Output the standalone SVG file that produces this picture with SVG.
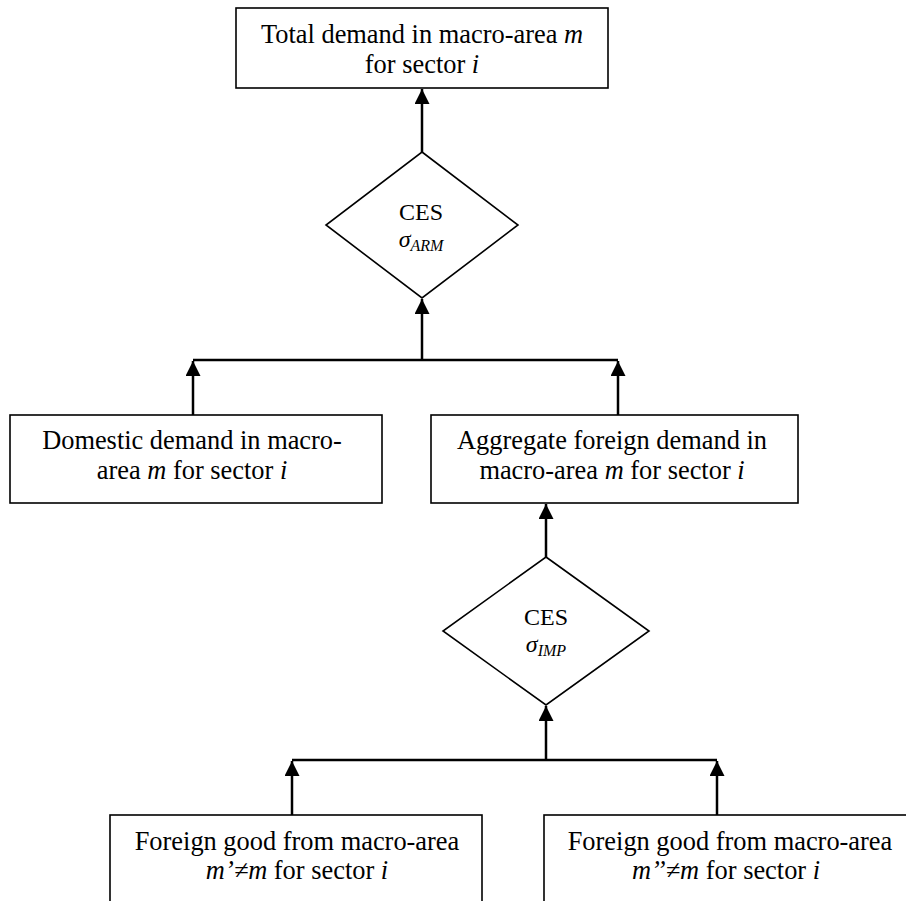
<svg xmlns="http://www.w3.org/2000/svg" width="906" height="901" viewBox="0 0 906 901">
<defs>
<style>
.box{fill:#fff;stroke:#000;stroke-width:1.6}
.dia{fill:#fff;stroke:#000;stroke-width:1.6}
.t{font-family:"Liberation Serif","Times New Roman",serif;font-size:26.4px;fill:#000;text-anchor:middle}
.d{font-size:24px}
.it{font-style:italic}
.sub{font-size:16px;font-style:italic}
.c{stroke:#000;stroke-width:2.5;fill:none}
.a{stroke:#000;stroke-width:2.5;fill:none;marker-end:url(#ah)}
</style>
<marker id="ah" viewBox="0 0 10 10" refX="10" refY="5" markerWidth="6.4" markerHeight="6" markerUnits="strokeWidth" orient="auto">
<path d="M0,0 L10,5 L0,10 z" fill="#000"/>
</marker>
</defs>
<rect width="906" height="901" fill="#fff"/>
<g id="connectors">
<line class="a" x1="422" y1="152" x2="422" y2="89"/>
<line class="a" x1="422" y1="360" x2="422" y2="299"/>
<line class="c" x1="193" y1="360" x2="618" y2="360"/>
<line class="a" x1="193" y1="415" x2="193" y2="361"/>
<line class="a" x1="618" y1="415" x2="618" y2="361"/>
<line class="a" x1="546" y1="557" x2="546" y2="504"/>
<line class="a" x1="546" y1="760" x2="546" y2="706"/>
<line class="c" x1="292" y1="760" x2="717" y2="760"/>
<line class="a" x1="292" y1="815" x2="292" y2="761"/>
<line class="a" x1="717" y1="815" x2="717" y2="761"/>
</g>
<g id="total">
<rect class="box" x="236" y="8" width="372" height="80"/>
<text class="t" x="422" y="43">Total demand in macro-area <tspan class="it">m</tspan></text>
<text class="t" x="422" y="73">for sector <tspan class="it">i</tspan></text>
</g>
<g id="ces-arm">
<polygon class="dia" points="422,152 518,225 422,298 326,225"/>
<text class="t d" x="421" y="220">CES</text>
<text class="t d" x="421" y="247"><tspan class="it">σ</tspan><tspan class="sub" dy="4">ARM</tspan></text>
</g>
<g id="domestic">
<rect class="box" x="10" y="415" width="372" height="88"/>
<text class="t" x="192" y="449">Domestic demand in macro-</text>
<text class="t" x="192" y="479">area <tspan class="it">m</tspan> for sector <tspan class="it">i</tspan></text>
</g>
<g id="aggregate">
<rect class="box" x="431" y="415" width="367" height="88"/>
<text class="t" x="612" y="449">Aggregate foreign demand in</text>
<text class="t" x="612" y="479">macro-area <tspan class="it">m</tspan> for sector <tspan class="it">i</tspan></text>
</g>
<g id="ces-imp">
<polygon class="dia" points="546,557 649,631 546,705 443,631"/>
<text class="t d" x="546" y="625">CES</text>
<text class="t d" x="546" y="652"><tspan class="it">σ</tspan><tspan class="sub" dy="4">IMP</tspan></text>
</g>
<g id="foreign1">
<rect class="box" x="110" y="815" width="372" height="100"/>
<text class="t" x="297" y="850">Foreign good from macro-area</text>
<text class="t" x="297" y="879"><tspan class="it">m’≠m</tspan> for sector <tspan class="it">i</tspan></text>
</g>
<g id="foreign2">
<rect class="box" x="544" y="815" width="372" height="100"/>
<text class="t" x="730" y="850">Foreign good from macro-area</text>
<text class="t" x="726" y="879"><tspan class="it">m’’≠m</tspan> for sector <tspan class="it">i</tspan></text>
</g>
</svg>
